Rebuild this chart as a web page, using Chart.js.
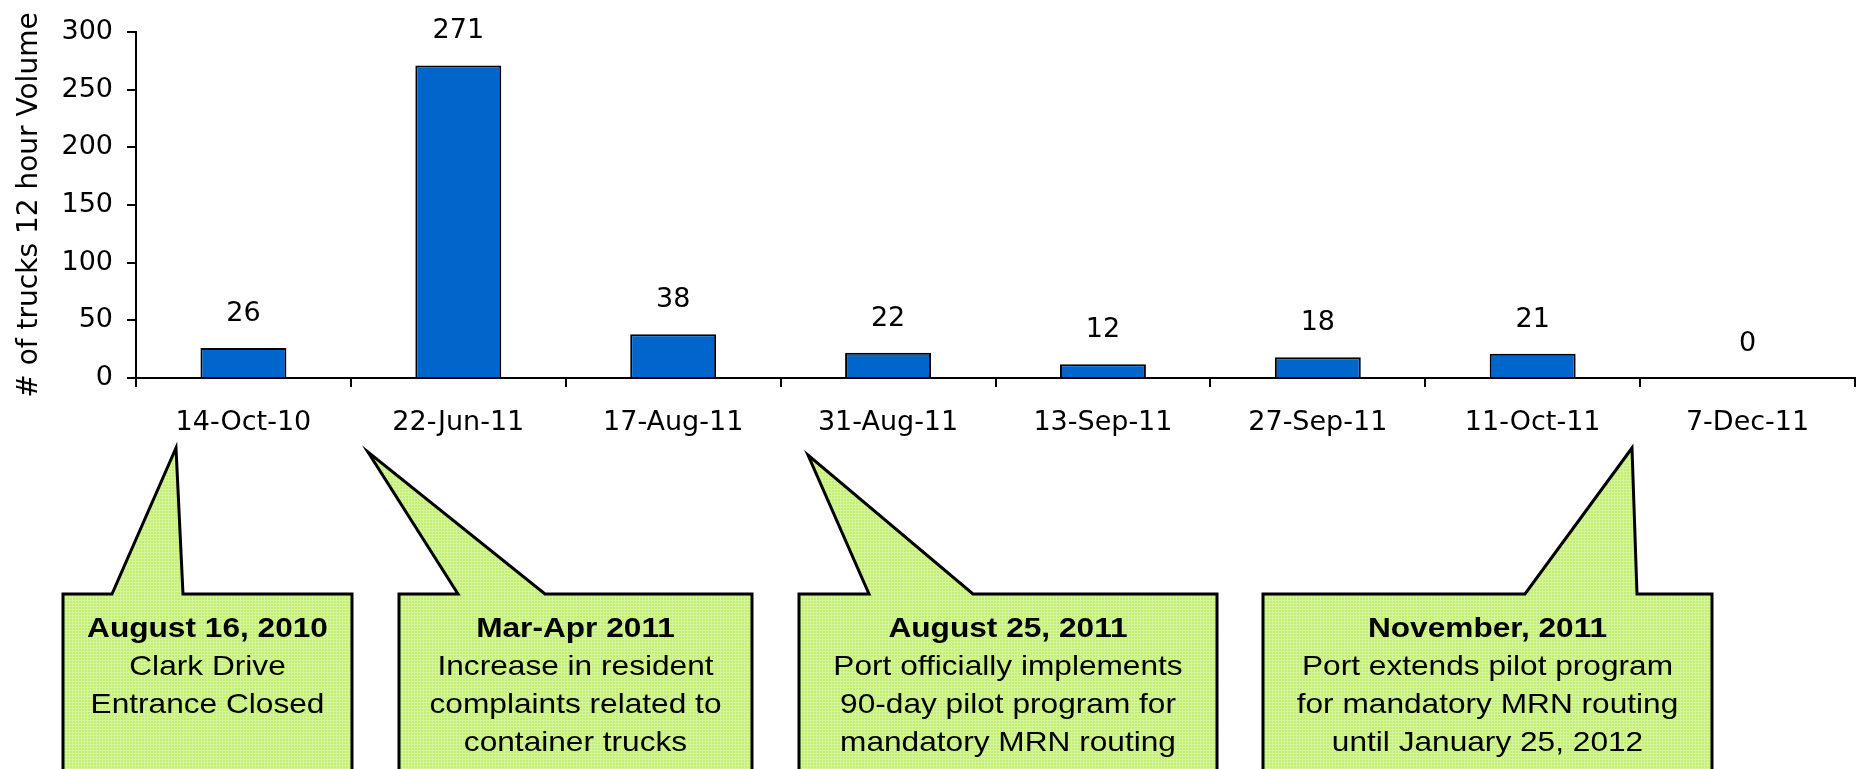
<!DOCTYPE html>
<html>
<head>
<meta charset="utf-8">
<script src="https://cdn.jsdelivr.net/npm/chart.js@4.4.1/dist/chart.umd.min.js"></script>
<style>
    html, body { margin: 0; padding: 0; background: #fff; }
    #wrap { width: 1862px; height: 769px; position: relative; }
</style>
</head>
<body>
<div id="wrap"><canvas id="trucksChart"></canvas></div>
<script>
// Dados do gráfico
const datas = ['14-Oct-10', '22-Jun-11', '17-Aug-11', '31-Aug-11', '13-Sep-11', '27-Sep-11', '11-Oct-11', '7-Dec-11'];
const caminhoes = [26, 271, 38, 22, 12, 18, 21, 0];
const ticksY = [0, 50, 100, 150, 200, 250, 300];

// Textos dos balões
const titulosNotas = ['August 16, 2010', 'Mar-Apr 2011', 'August 25, 2011', 'November, 2011'];
const textosNotas = [
    ['Clark Drive', 'Entrance Closed'],
    ['Increase in resident', 'complaints related to', 'container trucks'],
    ['Port officially implements', '90-day pilot program for', 'mandatory MRN routing'],
    ['Port extends pilot program', 'for mandatory MRN routing', 'until January 25, 2012']
];

// Geometria dos balões (pixels)
const baloes = [
    { left: 63, right: 352, baseL: 112, baseR: 183, tipX: 176, tipY: 448 },
    { left: 399, right: 752, baseL: 458, baseR: 545, tipX: 368, tipY: 452 },
    { left: 799, right: 1217, baseL: 869, baseR: 973, tipX: 808, tipY: 455 },
    { left: 1263, right: 1712, baseL: 1525, baseR: 1637, tipX: 1632, tipY: 448 }
];

const FONTE = 'DejaVu Sans';

// Textura verde dos balões
function criarPadrao(ctx) {
    const c = document.createElement('canvas');
    c.width = 3; c.height = 3;
    const p = c.getContext('2d');
    p.fillStyle = '#c2ee74';
    p.fillRect(0, 0, 3, 3);
    p.fillStyle = '#d4f59a';
    p.fillRect(0, 0, 3, 1);
    p.fillRect(0, 0, 1, 3);
    return ctx.createPattern(c, 'repeat');
}

// Plugin para os valores acima das barras
const rotulosPlugin = {
    id: 'rotulos',
    afterDatasetsDraw(chart) {
        const ctx = chart.ctx;
        const meta = chart.getDatasetMeta(0);
        ctx.save();
        ctx.font = '27px "' + FONTE + '"';
        ctx.fillStyle = '#000';
        ctx.textAlign = 'center';
        ctx.textBaseline = 'middle';
        meta.data.forEach(function(bar, i) {
            ctx.fillText(String(caminhoes[i]), bar.x, bar.y - 34);
        });
        ctx.restore();
    }
};

// Plugin para os balões de anotação
const baloesPlugin = {
    id: 'baloes',
    afterDraw(chart) {
        const ctx = chart.ctx;
        const padrao = criarPadrao(ctx);
        const topo = 594, fundo = 800;
        ctx.save();
        baloes.forEach(function(b, i) {
            ctx.beginPath();
            ctx.moveTo(b.left, topo);
            ctx.lineTo(b.baseL, topo);
            ctx.lineTo(b.tipX, b.tipY);
            ctx.lineTo(b.baseR, topo);
            ctx.lineTo(b.right, topo);
            ctx.lineTo(b.right, fundo);
            ctx.lineTo(b.left, fundo);
            ctx.closePath();
            ctx.fillStyle = padrao;
            ctx.fill();
            ctx.lineWidth = 3;
            ctx.lineJoin = 'miter';
            ctx.strokeStyle = '#000';
            ctx.stroke();

            const cx = (b.left + b.right) / 2;
            const linhas = [titulosNotas[i]].concat(textosNotas[i]);
            ctx.fillStyle = '#000';
            ctx.textAlign = 'center';
            ctx.textBaseline = 'alphabetic';
            linhas.forEach(function(txt, j) {
                ctx.save();
                ctx.translate(cx, 637 + j * 38);
                ctx.scale(1.13, 1);
                ctx.font = (j === 0 ? 'bold ' : '') + '28px "Liberation Sans"';
                ctx.fillText(txt, 0, 0);
                ctx.restore();
            });
        });
        ctx.restore();
    }
};

document.addEventListener('DOMContentLoaded', function() {
    const ctx = document.getElementById('trucksChart').getContext('2d');

    new Chart(ctx, {
        type: 'bar',
        data: {
            labels: datas,
            datasets: [{
                label: '# of trucks',
                data: caminhoes,
                backgroundColor: '#0066cc',
                borderColor: '#000',
                borderWidth: 2,
                barPercentage: 0.4,
                categoryPercentage: 1
            }]
        },
        options: {
            responsive: true,
            maintainAspectRatio: false,
            animation: false,
            layout: { padding: { top: 32, right: 7, left: 0, bottom: 0 } },
            plugins: {
                legend: { display: false },
                tooltip: { enabled: false }
            },
            scales: {
                x: {
                    offset: true,
                    grid: {
                        display: true,
                        drawOnChartArea: false,
                        drawTicks: true,
                        tickLength: 9,
                        color: '#000',
                        lineWidth: 2,
                        offset: true
                    },
                    border: { display: true, color: '#000', width: 2 },
                    ticks: {
                        color: '#000',
                        font: { family: FONTE, size: 27 },
                        padding: 20,
                        maxRotation: 0,
                        autoSkip: false
                    },
                    afterFit: function(scale) { scale.height = 391; }
                },
                y: {
                    min: 0,
                    max: 300,
                    afterBuildTicks: function(scale) {
                        scale.ticks = ticksY.map(function(v) { return { value: v }; });
                    },
                    grid: {
                        drawOnChartArea: false,
                        drawTicks: true,
                        tickLength: 9,
                        color: '#000',
                        lineWidth: 2
                    },
                    border: { display: true, color: '#000', width: 2 },
                    ticks: {
                        color: '#000',
                        font: { family: FONTE, size: 27 },
                        padding: 14
                    },
                    title: {
                        display: true,
                        text: '# of trucks 12 hour Volume',
                        color: '#000',
                        font: { family: FONTE, size: 28 },
                        padding: { top: 13, bottom: 0 }
                    },
                    afterFit: function(scale) { scale.width = 136; }
                }
            }
        },
        plugins: [rotulosPlugin, baloesPlugin]
    });
});
</script>
</body>
</html>
